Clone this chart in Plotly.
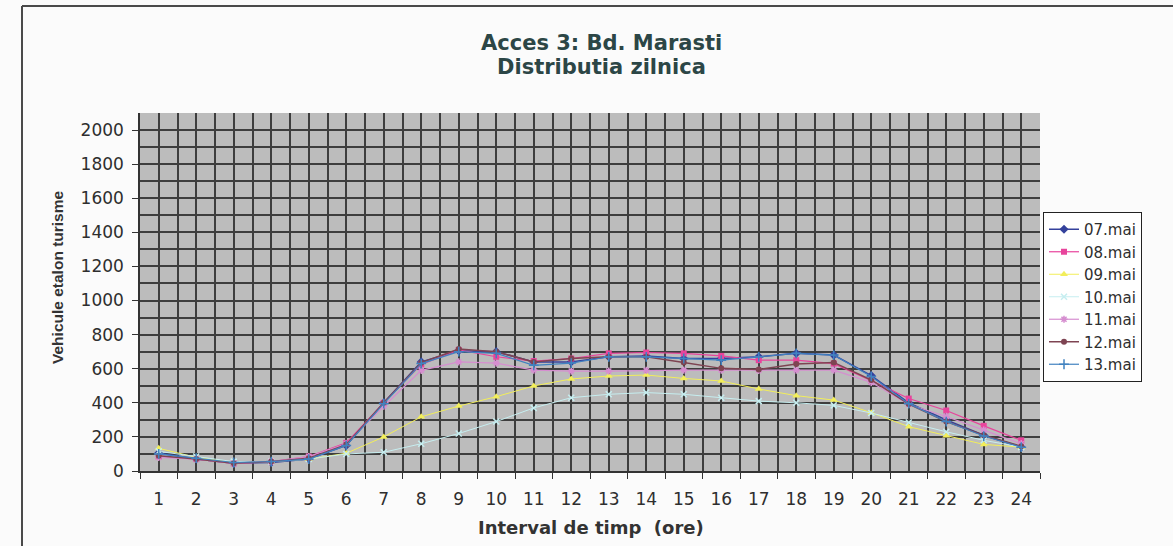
import plotly.graph_objects as go

# Hourly intervals and daily traffic (vehicule etalon turisme) per survey day
hours = list(range(1, 25))
day_labels = ["07.mai", "08.mai", "09.mai", "10.mai", "11.mai", "12.mai", "13.mai"]

mai07 = [105, 70, 45, 50, 70, 150, 400, 640, 705, 700, 640, 640, 670, 675, 660, 660, 670, 690, 680, 560, 400, 300, 210, 140]
mai08 = [85, 70, 45, 55, 85, 165, 400, 625, 710, 670, 645, 660, 690, 695, 690, 675, 650, 650, 630, 530, 425, 355, 265, 180]
mai09 = [133, 80, 50, 55, 70, 104, 200, 318, 381, 436, 499, 540, 557, 563, 543, 528, 481, 442, 416, 342, 260, 207, 156, 140]
mai10 = [115, 85, 55, 55, 70, 100, 110, 160, 220, 290, 370, 430, 450, 460, 450, 430, 410, 400, 385, 340, 285, 230, 180, 140]
mai11 = [80, 70, 45, 55, 85, 160, 380, 590, 640, 633, 592, 586, 586, 590, 592, 592, 590, 592, 592, 520, 390, 320, 240, 160]
mai12 = [90, 70, 45, 55, 75, 155, 400, 635, 715, 700, 640, 660, 670, 670, 637, 602, 596, 628, 637, 534, 393, 290, 210, 145]
mai13 = [100, 75, 50, 55, 70, 150, 395, 630, 700, 690, 620, 633, 670, 670, 660, 650, 670, 690, 680, 555, 395, 290, 205, 140]

y_ticks = list(range(0, 2001, 200))

series = [mai07, mai08, mai09, mai10, mai11, mai12, mai13]
styles = [
    dict(color="#34419c", symbol="diamond", size=7, lw=1.5),
    dict(color="#e8449c", symbol="square", size=6, lw=1.2),
    dict(color="#f2ee5a", symbol="triangle-up", size=7, lw=1.0),
    dict(color="#c6eef0", symbol="x-thin-open", size=6, lw=1.0),
    dict(color="#d68ed0", symbol="asterisk-open", size=6, lw=1.2),
    dict(color="#7e4452", symbol="circle", size=6, lw=1.5),
    dict(color="#4182c0", symbol="cross-thin-open", size=7, lw=1.2),
]

fig = go.Figure()
for name, vals, st in zip(day_labels, series, styles):
    open_marker = st["symbol"].endswith("open")
    fig.add_trace(go.Scatter(
        x=hours, y=vals, name=name, mode="lines+markers",
        line=dict(color=st["color"], width=st["lw"]),
        marker=dict(symbol=st["symbol"], size=st["size"], color=st["color"],
                    line=dict(color=st["color"], width=1.5 if open_marker else 0)),
    ))

# plot area in pixels: x 140..1040, y 113..471
L, R, T, B = 140, 1040, 113, 471
def px(x):
    return (x - L) / (R - L)
def py(y):
    return (B - y) / (B - T)

grid_col = "#3e3e3e"
text_col = "#2e2e2e"
fig.update_layout(
    width=1173, height=546,
    margin=dict(l=L, r=1173 - R, t=T, b=546 - B),
    paper_bgcolor="#fbfbfb",
    plot_bgcolor="#bcbcbc",
    font=dict(family="DejaVu Sans, sans-serif", color=text_col),
    showlegend=True,
    legend=dict(
        x=px(1043), y=py(212), xanchor="left", yanchor="top",
        bgcolor="#ffffff", bordercolor="#222222", borderwidth=1,
        font=dict(size=15, color=text_col),
        tracegroupgap=0, itemwidth=30,
    ),
    xaxis=dict(
        range=[0.5, 24.5], tickmode="array", tickvals=hours,
        ticktext=[str(h) for h in hours], ticks="",
        ticklabelstandoff=12,
        showgrid=True, gridcolor=grid_col, gridwidth=1.5,
        tickfont=dict(size=17, color=text_col),
        showline=True, linecolor="#333333", linewidth=1.5,
        zeroline=False,
        minor=dict(tickvals=[h + 0.5 for h in range(0, 25)], ticks="outside",
                   ticklen=6, tickcolor="#333333", showgrid=True,
                   gridcolor=grid_col, gridwidth=1.5),
    ),
    yaxis=dict(
        range=[0, 2100], tickmode="array", tickvals=y_ticks,
        ticks="outside", ticklen=6, tickcolor="#333333",
        ticklabelstandoff=5,
        showgrid=True, gridcolor=grid_col, gridwidth=1.5,
        tickfont=dict(size=17, color=text_col),
        showline=True, linecolor="#333333", linewidth=1.5,
        zeroline=False,
        minor=dict(dtick=100, showgrid=True, gridcolor=grid_col, gridwidth=1.5),
    ),
    annotations=[
        dict(text="<b>Acces 3: Bd. Marasti</b>", xref="paper", yref="paper",
             x=px(601), y=py(43), xanchor="center", yanchor="middle", showarrow=False,
             font=dict(family="DejaVu Sans, sans-serif", size=21, color="#2c4646")),
        dict(text="<b>Distributia zilnica</b>", xref="paper", yref="paper",
             x=px(601), y=py(67), xanchor="center", yanchor="middle", showarrow=False,
             font=dict(family="DejaVu Sans, sans-serif", size=21, color="#2c4646")),
        dict(text="<b>Vehicule etalon turisme</b>", xref="paper", yref="paper",
             x=px(57), y=py(277), xanchor="center", yanchor="middle", showarrow=False,
             textangle=-90,
             font=dict(family="Liberation Sans, Arial, sans-serif", size=15.5, color="#333333")),
        dict(text="<b>Interval de timp  (ore)</b>", xref="paper", yref="paper",
             x=px(591), y=py(527), xanchor="center", yanchor="middle", showarrow=False,
             font=dict(family="DejaVu Sans, sans-serif", size=18, color="#333333")),
    ],
    shapes=[
        # outer chart frame (top and left edges)
        dict(type="line", xref="paper", yref="paper",
             x0=px(22), x1=px(1180), y0=py(6), y1=py(6),
             line=dict(color="#4a4a4a", width=2)),
        dict(type="line", xref="paper", yref="paper",
             x0=px(22), x1=px(22), y0=py(6), y1=py(550),
             line=dict(color="#4a4a4a", width=2)),
    ],
)

fig.write_html("out.html")
